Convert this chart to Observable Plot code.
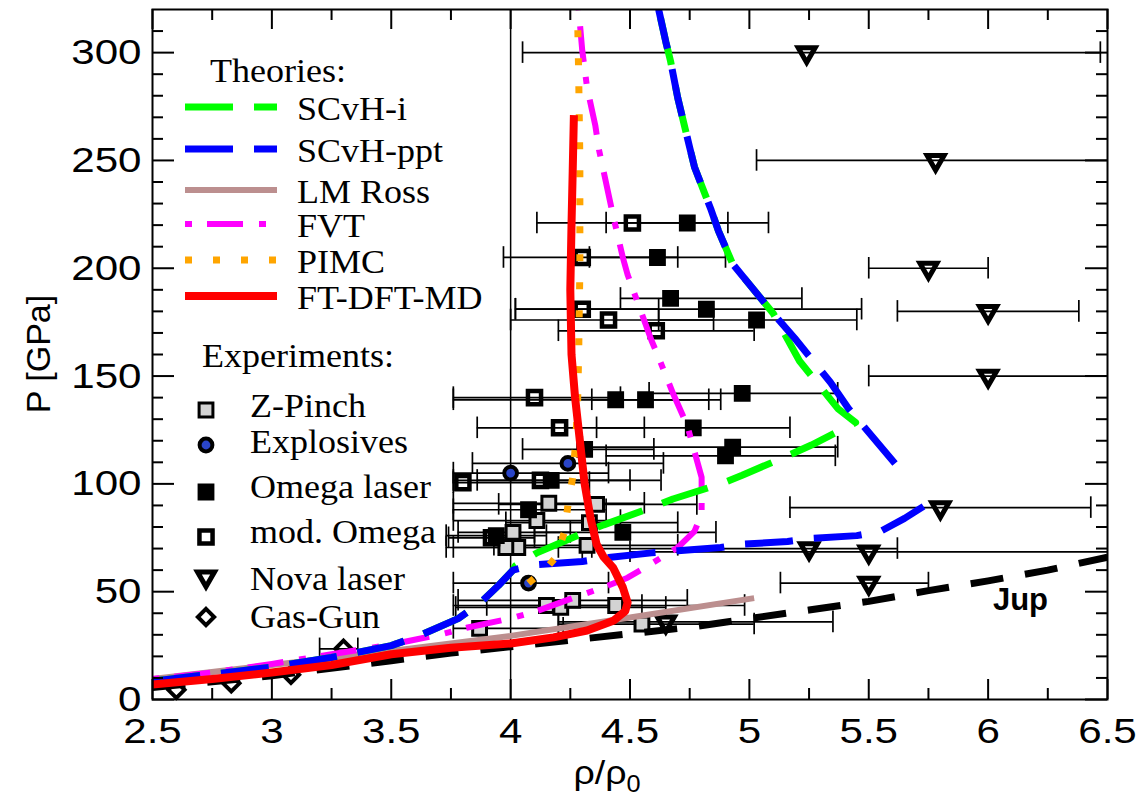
<!DOCTYPE html>
<html><head><meta charset="utf-8">
<script src="https://cdn.jsdelivr.net/npm/d3@7"></script>
<script src="https://cdn.jsdelivr.net/npm/@observablehq/plot@0.6"></script>
<style>body{margin:0;background:#fff} svg{display:block}</style>
</head><body>
<script>
// ---------- tick labels ----------
const xTicks = [2.5, 3, 3.5, 4, 4.5, 5, 5.5, 6, 6.5];
const yTicks = [0, 50, 100, 150, 200, 250, 300];

// ---------- theory curves [rho/rho0, P(GPa)] ----------
const jup = [[2.5,5.5],[3.0,11],[3.5,18],[3.75,21.5],[4.0,24.5],[4.25,27.5],[4.5,30.5],[4.75,33.5],[5.0,37.5],[5.25,41.5],[5.5,45.5],[5.75,50.5],[6.0,55],[6.25,60],[6.5,66]];
const lmRoss = [[2.5,9.5],[3.0,16],[3.5,22.5],[4.0,29.5],[4.5,38],[5.02,47]];
const fvt = [[2.5,9.5],[2.75,12.5],[3.0,16.5],[3.25,21],[3.5,25.5],[3.7,30],[3.82,33.4],[4.0,37.6],[4.11,41],[4.26,47],[4.4,52.5],[4.49,56.5],[4.56,61],[4.7,70.5],[4.77,78],[4.8,86],[4.8,103],[4.74,127],[4.68,142],[4.615,160],[4.59,166.5],[4.49,197],[4.47,205],[4.43,224],[4.37,255],[4.355,266],[4.32,284],[4.3,301],[4.285,320]];
const scvhI = [[2.5,8.5],[3.0,15],[3.25,19.5],[3.5,25],[3.62,29.7],[3.78,37.5],[3.87,44.5],[3.95,53],[4.01,60],[4.02,62],[4.11,68],[4.3,77],[4.39,81],[4.59,89],[4.68,93],[4.88,100],[4.97,104],[5.16,113],[5.26,118],[5.445,128.5],[5.37,135],[5.21,157],[5.1,179],[4.93,202],[4.87,217.5],[4.84,227],[4.77,247],[4.75,256],[4.70,279],[4.67,296],[4.65,305],[4.62,320]];
const scvhPpt = [[2.5,8.5],[3.0,15],[3.25,19.5],[3.5,25],[3.62,29.7],[3.78,37.5],[3.87,44.5],[3.95,53],[4.01,60],[4.1,62.5],[4.3,64],[4.42,66],[4.59,68],[4.7,69],[4.88,70.5],[4.97,72],[5.16,73.3],[5.26,74.7],[5.45,76],[5.55,78],[5.65,84],[5.75,91],[NaN,NaN],[5.61,109.5],[5.415,135],[5.34,147],[5.19,167.5],[5.1,179],[4.93,202],[4.87,217.5],[4.84,227],[4.77,247],[4.75,256],[4.70,279],[4.67,296],[4.65,305],[4.62,320]];
const pimc = [[4.075,54],[4.15,61],[4.19,66],[4.225,77.5],[4.24,90],[4.26,103],[4.27,116],[4.28,135],[4.285,160],[4.29,200],[4.29,250],[4.285,290],[4.28,320]];
const ftDftMd = [[2.5,7],[2.75,9.5],[3.0,12.5],[3.25,16],[3.5,21],[3.75,24],[4.0,26],[4.18,28.8],[4.32,32],[4.43,36.5],[4.48,41],[4.49,45],[4.47,52],[4.43,61],[4.39,66],[4.36,72],[4.335,84],[4.31,100],[4.29,120],[4.27,140],[4.255,160],[4.25,190],[4.255,220],[4.26,245],[4.265,271]];

// ---------- experiments [rho/rho0, P, rho low, rho high] ----------
const zPinch = [[4.16,91,3.76,4.56],[4.36,90.5,3.95,4.78],[4.11,83,3.76,4.46],[4.33,82,3.98,4.7],[4.01,77.5,3.78,4.25],[4.03,70.5,3.73,4.34],[3.98,70.5,3.76,4.2],[4.32,71.5,3.93,4.7],[4.15,43.6,3.76,4.55],[4.21,42.7,3.77,4.65],[4.26,46,3.78,4.74],[4.44,43.6,3.9,4.98],[4.55,35,4.2,5.02],[3.87,33,3.76,4.22]];
const explosives = [[4.0,105,3.76,4.41],[4.24,109.5,3.84,4.64],[4.075,54,3.76,4.41]];
const omega = [[4.74,221,4.40,5.08],[4.615,205,4.33,4.90],[4.67,186,4.46,5.22],[4.82,181,4.02,5.47],[5.03,176,4.62,5.45],[4.44,139,3.76,4.88],[4.565,139,4.34,4.83],[4.97,142,4.58,5.37],[4.765,126,4.36,5.17],[4.93,117,4.3,5.37],[4.9,113,4.4,5.36],[4.31,116,4.05,4.6],[4.17,101.6,3.86,4.63],[4.075,88,3.76,4.4],[3.94,76,3.73,4.15],[4.47,77.5,4.1,4.86]];
const modOmega = [[4.51,221,4.11,4.91],[4.30,205,3.97,4.70],[4.30,181,4.02,4.62],[4.41,176,4.0,4.85],[4.61,171,4.2,5.02],[4.10,140,3.76,4.46],[4.205,126,3.86,4.56],[3.80,100.6,3.76,4.33],[4.125,101.6,3.76,4.5],[3.92,75,3.74,4.1]];
const nova = [[5.24,300,4.05,6.47],[5.78,250,5.03,6.7],[5.75,200,5.5,6.0],[6.0,180,5.62,6.38],[6.0,150,5.5,6.7],[5.8,89,5.17,6.43],[5.25,70,4.3,5.62],[5.5,68.5,4.5,6.7],[5.5,54,5.13,5.75],[4.65,36,4.2,5.35]];
const gasGun = [[2.6,4.5],[2.83,7.5],[3.08,11.5],[3.3,23.5,3.2,3.36]];

const jupLabel = [[6.02, 46, "Jup"]];

const theoryNames = ["SCvH-i", "SCvH-ppt", "LM Ross", "FVT", "PIMC", "FT-DFT-MD"];
const experimentNames = ["Z-Pinch", "Explosives", "Omega laser", "mod. Omega", "Nova laser", "Gas-Gun"];

// ---------- styles ----------
const theoryStyle = [
  {stroke: "#00ff00", strokeWidth: 7, dash: "48,21"},
  {stroke: "#0000ff", strokeWidth: 7, dash: "48,21"},
  {stroke: "#bc8f8f", strokeWidth: 6, dash: null},
  {stroke: "#ff00ff", strokeWidth: 6, dash: "7,15,36,16"},
  {stroke: "#ffa500", strokeWidth: 7, dash: "7,21"},
  {stroke: "#ff0000", strokeWidth: 8, dash: null}
];
const triangleDown = {draw(ctx, size) {
  const h = Math.sqrt(size / (3 * Math.sqrt(3)));
  ctx.moveTo(0, 2 * h); ctx.lineTo(-Math.sqrt(3) * h, -h); ctx.lineTo(Math.sqrt(3) * h, -h); ctx.closePath();
}};
const diamondSym = {draw(ctx, size) {
  const a = Math.sqrt(size / 2);
  ctx.moveTo(0, -a); ctx.lineTo(a, 0); ctx.lineTo(0, a); ctx.lineTo(-a, 0); ctx.closePath();
}};
const expStyle = [
  {symbol: d3.symbolSquare, r: 7.8, fill: "#d3d3d3", strokeWidth: 3},
  {symbol: d3.symbolCircle, r: 6.4, fill: "#2a45c8", strokeWidth: 4},
  {symbol: d3.symbolSquare, r: 7.8, fill: "black", strokeWidth: 3},
  {symbol: d3.symbolSquare, r: 7.4, fill: "none", strokeWidth: 4.5},
  {symbol: triangleDown, r: 6.3, fill: "none", strokeWidth: 5},
  {symbol: diamondSym, r: 6.5, fill: "none", strokeWidth: 4}
];
const expData = [zPinch, explosives, omega, modOmega, nova, gasGun];

const W = 1146, H = 803, mL = 152, mR = 39, mT = 9, mB = 104;
const fw = W - mL - mR, fh = H - mT - mB;
const X = d => d[0], Y = d => d[1];
const bars = expData.flat().filter(d => d.length > 2);
const xMinor = d3.range(2.75, 6.5, 0.5);
const yMinor = d3.range(10, 320, 10).filter(v => v % 50 !== 0);

const lineMark = (data, s) => Plot.line(data, {x: X, y: Y, stroke: s.stroke, strokeWidth: s.strokeWidth,
  strokeDasharray: s.dash, strokeLinecap: "butt", strokeLinejoin: "round", clip: true});

const chart = Plot.plot({
  width: W, height: H,
  marginLeft: mL, marginRight: mR, marginTop: mT, marginBottom: mB,
  x: {domain: [2.5, 6.5]},
  y: {domain: [0, 320]},
  style: {fontFamily: "'Liberation Sans', Arial, Helvetica, sans-serif", background: "white", color: "black"},
  marks: [
    Plot.ruleX([4], {stroke: "black", strokeWidth: 1.5}),
    // error bars
    Plot.ruleY(bars, {y: Y, x1: d => d[2], x2: d => d[3], stroke: "black", strokeWidth: 1.7, clip: true}),
    Plot.ruleX(bars, {x: d => d[2], y1: d => d[1] - 5, y2: d => d[1] + 5, stroke: "black", strokeWidth: 1.7, clip: true}),
    Plot.ruleX(bars, {x: d => d[3], y1: d => d[1] - 5, y2: d => d[1] + 5, stroke: "black", strokeWidth: 1.7, clip: true}),
    // symbols
    ...expData.map((data, i) => Plot.dot(data, {x: X, y: Y, symbol: expStyle[i].symbol, r: expStyle[i].r,
      fill: expStyle[i].fill, stroke: "black", strokeWidth: expStyle[i].strokeWidth})),
    // theory curves
    Plot.line(jup, {x: X, y: Y, stroke: "black", strokeWidth: 7, strokeDasharray: "33,22", strokeLinecap: "butt", clip: true}),
    lineMark(lmRoss, theoryStyle[2]),
    lineMark(fvt, theoryStyle[3]),
    lineMark(scvhI, theoryStyle[0]),
    lineMark(scvhPpt, theoryStyle[1]),
    lineMark(pimc, theoryStyle[4]),
    lineMark(ftDftMd, theoryStyle[5]),
    Plot.text(jupLabel, {x: X, y: Y, text: d => d[2], textAnchor: "start", fontWeight: "bold", fontSize: 31, fill: "black"}),
    // frame + inward ticks
    Plot.frame({stroke: "black", strokeWidth: 2}),
    Plot.ruleX(xTicks, {x: d => d, insetTop: fh - 20, strokeWidth: 2}),
    Plot.ruleX(xTicks, {x: d => d, insetBottom: fh - 20, strokeWidth: 2}),
    Plot.ruleX(xMinor, {x: d => d, insetTop: fh - 11, strokeWidth: 2}),
    Plot.ruleX(xMinor, {x: d => d, insetBottom: fh - 11, strokeWidth: 2}),
    Plot.ruleY(yTicks, {y: d => d, insetRight: fw - 22, strokeWidth: 2}),
    Plot.ruleY(yTicks, {y: d => d, insetLeft: fw - 22, strokeWidth: 2}),
    Plot.ruleY(yMinor, {y: d => d, insetRight: fw - 11, strokeWidth: 2}),
    Plot.ruleY(yMinor, {y: d => d, insetLeft: fw - 11, strokeWidth: 2}),
    Plot.axisX({ticks: xTicks, tickSize: 0, tickPadding: 18, fontSize: 36, tickFormat: d => String(d), label: null}),
    Plot.axisY({ticks: yTicks, tickSize: 0, tickPadding: 11, fontSize: 36, tickFormat: d => String(d), label: null})
  ]
});
document.body.appendChild(chart);

// widen tick labels a little (reference glyphs are horizontally wide)
d3.select(chart).selectAll('g[aria-label="x-axis tick label"] text, g[aria-label="y-axis tick label"] text')
  .attr("transform", function() { return (this.getAttribute("transform") || "") + " scale(1.17,1)"; });

// ---------- axis titles and legend ----------
const svg = d3.select(chart);
function addText(parent, x, y, str, sx = 1) {
  return parent.append("text").attr("transform", `translate(${x},${y}) scale(${sx},1)`).text(str);
}
svg.append("text").attr("transform", "translate(50,354) rotate(-90)")
  .attr("text-anchor", "middle").attr("font-size", 34).attr("fill", "black")
  .attr("font-family", "'Liberation Sans', Arial, sans-serif").text("P [GPa]");
const xl = svg.append("text").attr("transform", "translate(607,784) scale(1.1,1)").attr("text-anchor", "middle")
  .attr("font-size", 34).attr("fill", "black").attr("font-family", "'Liberation Sans', Arial, sans-serif");
xl.append("tspan").text("ρ/ρ");
xl.append("tspan").attr("font-size", 23).attr("dy", 8).text("0");

const lg = svg.append("g").attr("font-family", "'Liberation Serif', 'Times New Roman', serif")
  .attr("font-size", 34).attr("fill", "black").attr("text-anchor", "start");
addText(lg, 210, 82, "Theories:", 1.06);
const theoryLegY = [107, 149, 190, 224, 260, 296];
theoryNames.forEach((name, i) => {
  const y = theoryLegY[i], s = theoryStyle[i];
  lg.append("line").attr("x1", 185).attr("x2", 277).attr("y1", y).attr("y2", y)
    .attr("stroke", s.stroke).attr("stroke-width", s.strokeWidth)
    .attr("stroke-dasharray", s.dash).attr("stroke-linecap", "butt");
  addText(lg, 297, y + 13, name, 1.06);
});
addText(lg, 202, 367, "Experiments:", 1.06);
const expLegY = [410, 445, 492, 537, 577, 617];
const expTextY = [417, 453, 498, 543, 590, 628];
experimentNames.forEach((name, i) => {
  const s = expStyle[i];
  lg.append("path").attr("transform", `translate(206,${expLegY[i]})`)
    .attr("d", d3.symbol(s.symbol, Math.PI * s.r * s.r)())
    .attr("fill", s.fill === "none" ? "white" : s.fill).attr("stroke", "black").attr("stroke-width", s.strokeWidth);
  addText(lg, 250, expTextY[i], name, 1.06);
});
</script>
</body></html>
